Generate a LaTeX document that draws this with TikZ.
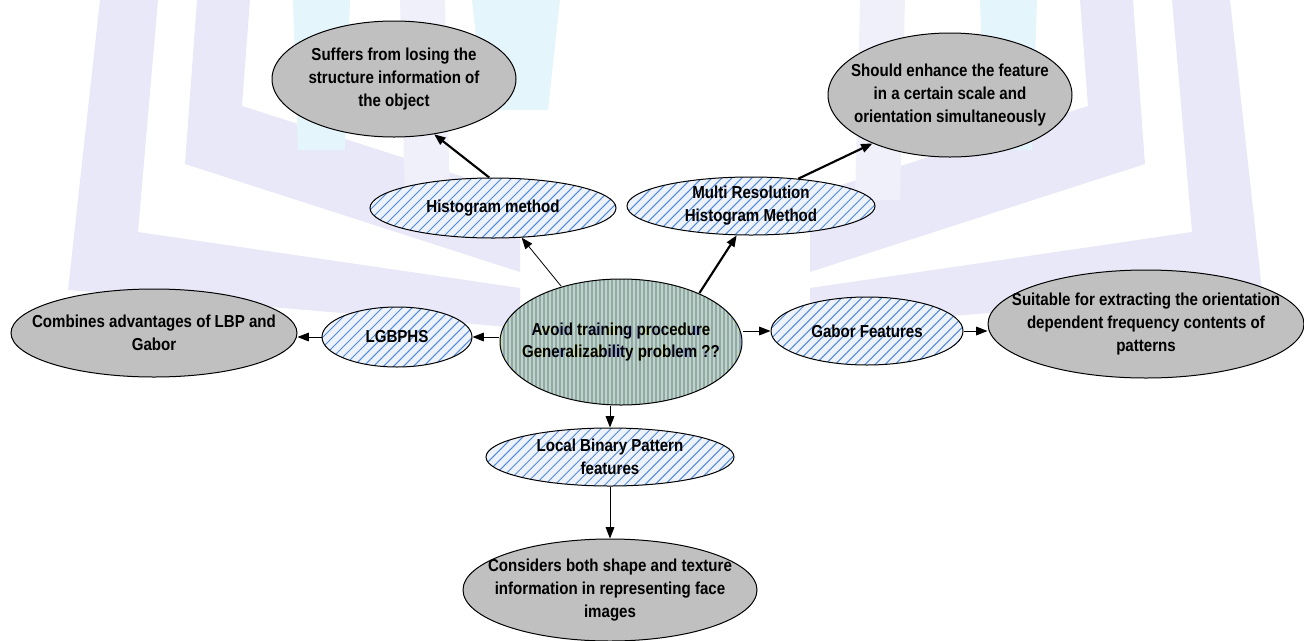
\documentclass[tikz,border=0pt]{standalone}
\usepackage{fontspec}
\setmainfont{Liberation Sans}[FakeStretch=0.87]
\usetikzlibrary{shapes.geometric, arrows.meta, patterns.meta}

\definecolor{notegray}{RGB}{192,192,192}
\definecolor{hatchbg}{RGB}{238,242,250}
\definecolor{hatchline}{RGB}{78,138,222}
\definecolor{coregreen}{RGB}{200,216,150}
\definecolor{coreblue}{RGB}{136,164,216}
\definecolor{wmlav}{RGB}{232,232,248}
\definecolor{wmlavlight}{RGB}{240,240,251}
\definecolor{wmcyan}{RGB}{228,245,251}

\tikzset{
  lbl/.style={font=\bfseries\fontsize{13}{17.2}\selectfont, align=center, text=black},
  % negative inner sep lets the minimum size alone fix the ellipse
  base/.style={ellipse, draw=black, line width=0.75pt, inner sep=-120pt, lbl},
  dims/.style args={#1/#2}{minimum width=#1*0.75pt, minimum height=#2*0.75pt},
  note/.style={base, fill=notegray},
  method/.style={base, preaction={fill=hatchbg},
    pattern={Lines[angle=45, distance=5.3pt, line width=0.75pt]}, pattern color=hatchline},
  core/.style={base, preaction={fill=coregreen},
    pattern={Lines[angle=90, distance=3pt, line width=1.5pt]}, pattern color=coreblue},
  link/.style={-{Triangle[length=8.5pt,width=6.5pt]}, line width=0.75pt},
  boldlink/.style={link, line width=1.6pt},
  thinlink/.style={-{Triangle[length=8.5pt,width=6.5pt]}, line width=0.6pt},
}

\begin{document}
\begin{tikzpicture}[x=0.75pt, y=-0.75pt]
  \useasboundingbox (0,0) rectangle (1304,640);

  % faint background emblem
  \fill[wmlav] (100,0) -- (158,0) -- (138,232) -- (520,288) -- (520,328) -- (68,290) -- cycle;
  \fill[wmlav] (197,0) -- (250,0) -- (242,106) -- (520,195) -- (520,272) -- (185,164) -- cycle;
  \fill[wmlav] (1230,0) -- (1172,0) -- (1192,232) -- (810,288) -- (810,328) -- (1262,290) -- cycle;
  \fill[wmlav] (1133,0) -- (1080,0) -- (1088,106) -- (810,195) -- (810,272) -- (1145,164) -- cycle;
  \fill[wmcyan] (293,0) -- (350,0) -- (345,150) -- (298,150) -- cycle;
  \fill[wmcyan] (980,0) -- (1037,0) -- (1032,150) -- (985,150) -- cycle;
  \fill[wmlavlight] (400,0) -- (445,0) -- (450,200) -- (405,200) -- cycle;
  \fill[wmlavlight] (860,0) -- (905,0) -- (900,200) -- (855,200) -- cycle;
  \fill[wmcyan] (472,0) -- (560,0) -- (548,110) -- (484,110) -- cycle;

  % central topic
  \node[core, dims=242/126] (core) at (621,342)
    {Avoid training procedure\\Generalizability problem ??};

  % methods
  \node[method, dims=246/60] (hist)  at (493,208) {Histogram method};
  \node[method, dims=248/58] (multi) at (751,206) {Multi Resolution\\Histogram Method};
  \node[method, dims=150/60] (lgb)   at (397,337) {LGBPHS};
  \node[method, dims=192/68] (gabor) at (867,331) {Gabor Features};
  \node[method, dims=248/58] (lbp)   at (610,457) {Local Binary Pattern\\features};

  % remarks
  \node[note, dims=244/116] (suffer) at (394,79)
    {Suffers from losing the\\structure information of\\the object};
  \node[note, dims=244/124] (should) at (950,95)
    {Should enhance the feature\\in a certain scale and\\orientation simultaneously};
  \node[note, dims=286/88] (comb) at (154,333)
    {Combines advantages of LBP and\\Gabor};
  \node[note, dims=316/108] (suit) at (1146,324)
    {Suitable for extracting the orientation\\dependent frequency contents of\\patterns};
  \node[note, dims=294/102] (cons) at (610,590)
    {Considers both shape and texture\\information in representing face\\images};

  % connectors
  \draw[thinlink] (core.137) -- (hist.-46);
  \draw[boldlink] (hist.97) -- (suffer.-54);
  \draw[boldlink] (core.32) -- (multi.-116);
  \draw[boldlink] (multi.30) -- (should.-148);
  \draw[link] (core.west |- lgb.east) -- (lgb.east);
  \draw[link] (lgb.west) -- (comb.east |- lgb.west);
  \draw[link] (core.east |- gabor.west) -- (gabor.west);
  \draw[link] (gabor.east) -- (suit.west |- gabor.east);
  \draw[link] (lbp.north |- core.south) -- (lbp.north);
  \draw[link] (lbp.south) -- (cons.north);
\end{tikzpicture}
\end{document}
